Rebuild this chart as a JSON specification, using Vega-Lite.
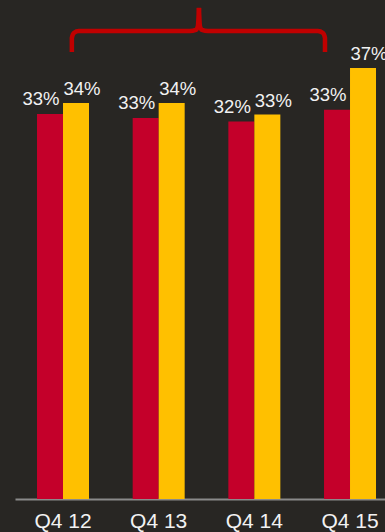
{
  "$schema": "https://vega.github.io/schema/vega-lite/v6.json",
  "width": 370,
  "height": 499,
  "autosize": {"type": "none"},
  "padding": {"left": 15, "top": 0, "right": 0, "bottom": 33},
  "background": "#282623",
  "config": {"view": {"stroke": null}, "font": "Liberation Sans"},
  "datasets": {
    "bars": [
      {"quarter": "Q4 12", "series": "A", "value": 0.3305},
      {"quarter": "Q4 12", "series": "B", "value": 0.34},
      {"quarter": "Q4 13", "series": "A", "value": 0.327},
      {"quarter": "Q4 13", "series": "B", "value": 0.34},
      {"quarter": "Q4 14", "series": "A", "value": 0.324},
      {"quarter": "Q4 14", "series": "B", "value": 0.33},
      {"quarter": "Q4 15", "series": "A", "value": 0.334},
      {"quarter": "Q4 15", "series": "B", "value": 0.37}
    ],
    "brace": [
      {"part": "L", "ord": 1, "pos": 0.594, "v": 0.3837},
      {"part": "L", "ord": 2, "pos": 0.594, "v": 0.3957},
      {"part": "L", "ord": 3, "pos": 0.615, "v": 0.4},
      {"part": "L", "ord": 4, "pos": 0.667, "v": 0.4017},
      {"part": "L", "ord": 5, "pos": 1.827, "v": 0.4017},
      {"part": "L", "ord": 6, "pos": 1.890, "v": 0.4026},
      {"part": "L", "ord": 7, "pos": 1.911, "v": 0.406},
      {"part": "L", "ord": 8, "pos": 1.922, "v": 0.4215},
      {"part": "R", "ord": 1, "pos": 3.239, "v": 0.3837},
      {"part": "R", "ord": 2, "pos": 3.239, "v": 0.3957},
      {"part": "R", "ord": 3, "pos": 3.218, "v": 0.4},
      {"part": "R", "ord": 4, "pos": 3.165, "v": 0.4017},
      {"part": "R", "ord": 5, "pos": 2.016, "v": 0.4017},
      {"part": "R", "ord": 6, "pos": 1.953, "v": 0.4026},
      {"part": "R", "ord": 7, "pos": 1.932, "v": 0.406},
      {"part": "R", "ord": 8, "pos": 1.922, "v": 0.4215}
    ]
  },
  "resolve": {"scale": {"x": "independent"}, "axis": {"x": "independent"}},
  "layer": [
    {
      "data": {"name": "bars"},
      "encoding": {
        "x": {
          "field": "quarter",
          "type": "nominal",
          "sort": null,
          "scale": {"paddingInner": 0.4565, "paddingOuter": 0.162, "align": 0.71},
          "axis": {
            "title": null,
            "labelAngle": 0,
            "labelFontSize": 21,
            "labelColor": "#f2f2f2",
            "labelPadding": 11,
            "ticks": false,
            "domainColor": "#8a8a8a",
            "domainWidth": 2
          }
        },
        "xOffset": {"field": "series", "type": "nominal", "scale": {"paddingInner": 0, "paddingOuter": 0}},
        "y": {
          "field": "value",
          "type": "quantitative",
          "scale": {"domain": [0, 0.4283], "nice": false, "zero": true},
          "axis": null
        }
      },
      "layer": [
        {
          "mark": {"type": "bar"},
          "encoding": {
            "color": {
              "field": "series",
              "type": "nominal",
              "scale": {"domain": ["A", "B"], "range": ["#c4002a", "#ffc000"]},
              "legend": null
            }
          }
        },
        {
          "transform": [{"filter": "datum.series === 'A'"}],
          "mark": {"type": "text", "baseline": "alphabetic", "dy": -9, "dx": -9, "fontSize": 18.5, "color": "#f2f2f2"},
          "encoding": {"text": {"field": "value", "type": "quantitative", "format": ".0%"}}
        },
        {
          "transform": [{"filter": "datum.series === 'B'"}],
          "mark": {"type": "text", "baseline": "alphabetic", "dy": -8, "dx": 6, "fontSize": 18.5, "color": "#f2f2f2"},
          "encoding": {"text": {"field": "value", "type": "quantitative", "format": ".0%"}}
        }
      ]
    },
    {
      "data": {"name": "brace"},
      "mark": {"type": "line", "color": "#c00000", "strokeWidth": 4.5, "strokeJoin": "round", "strokeCap": "butt", "interpolate": "monotone"},
      "encoding": {
        "x": {"field": "pos", "type": "quantitative", "scale": {"domain": [0, 3.866], "nice": false, "zero": false}, "axis": null},
        "y": {"field": "v", "type": "quantitative"},
        "detail": {"field": "part"},
        "order": {"field": "ord"}
      }
    }
  ]
}
